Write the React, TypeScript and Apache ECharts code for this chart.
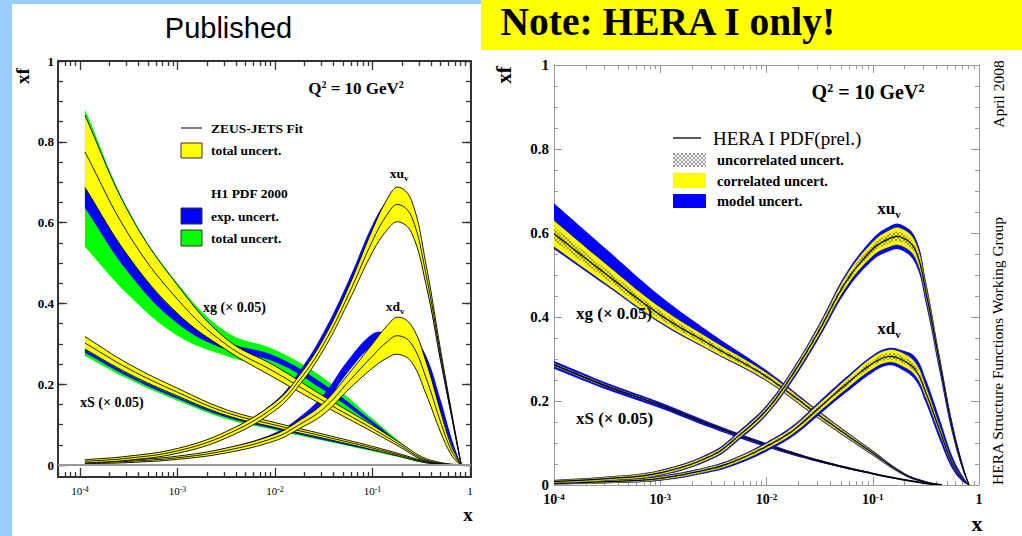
import React, { useEffect, useRef } from "react";
import * as echarts from "echarts";

// ---------------- tick labels ----------------
const X_DECADES = [-4, -3, -2, -1, 0]; // log10(x)
const Y_LABELS = [0, 0.2, 0.4, 0.6, 0.8, 1];

// ---------------- LEFT panel (Published: ZEUS-JETS vs H1 PDF 2000), x given as log10(x) ----------------
const L_X_SEA = [-3.95, -3.5, -3, -2.5, -2, -1.5, -1, -0.7, -0.5, -0.3, -0.09];
const L_X_VAL = [-3.95, -3.5, -3, -2.5, -2, -1.75, -1.5, -1.25, -1, -0.85, -0.74, -0.6, -0.45, -0.3, -0.2, -0.13, -0.09];

// xg (x 0.05)
const L_XG_Z_UP = [0.866, 0.625, 0.445, 0.312, 0.245, 0.17, 0.098, 0.052, 0.021, 0.006, 0];
const L_XG_Z_C = [0.775, 0.57, 0.41, 0.298, 0.23, 0.158, 0.09, 0.047, 0.017, 0.004, 0];
const L_XG_Z_LO = [0.687, 0.515, 0.375, 0.285, 0.215, 0.147, 0.082, 0.042, 0.014, 0.003, 0];
const L_XG_H1_GU = [0.88, 0.63, 0.45, 0.33, 0.285, 0.215, 0.115, 0.054, 0.021, 0.006, 0];
const L_XG_H1_BU = [0.7, 0.52, 0.375, 0.305, 0.27, 0.2, 0.108, 0.05, 0.018, 0.005, 0];
const L_XG_H1_BL = [0.636, 0.475, 0.35, 0.285, 0.255, 0.185, 0.1, 0.046, 0.016, 0.004, 0];
const L_XG_H1_GL = [0.54, 0.42, 0.32, 0.27, 0.235, 0.17, 0.093, 0.042, 0.014, 0.003, 0];

// xS (x 0.05)
const L_XS_Z_UP = [0.318, 0.25, 0.19, 0.137, 0.105, 0.076, 0.046, 0.026, 0.012, 0.003, 0];
const L_XS_Z_C = [0.302, 0.238, 0.18, 0.13, 0.099, 0.071, 0.042, 0.023, 0.01, 0.002, 0];
const L_XS_Z_LO = [0.287, 0.226, 0.171, 0.123, 0.093, 0.066, 0.038, 0.02, 0.008, 0.001, 0];
const L_XS_H1_GU = [0.29, 0.228, 0.173, 0.125, 0.095, 0.068, 0.04, 0.022, 0.009, 0.002, 0];
const L_XS_H1_BU = [0.285, 0.224, 0.169, 0.122, 0.092, 0.065, 0.038, 0.02, 0.008, 0.001, 0];
const L_XS_H1_BL = [0.278, 0.218, 0.164, 0.118, 0.089, 0.062, 0.036, 0.019, 0.007, 0.001, 0];
const L_XS_H1_GL = [0.27, 0.212, 0.159, 0.114, 0.086, 0.06, 0.034, 0.018, 0.006, 0.001, 0];

// xu_v
const L_XU_Z_UP = [0.013, 0.022, 0.041, 0.083, 0.155, 0.222, 0.314, 0.438, 0.583, 0.658, 0.688, 0.655, 0.495, 0.282, 0.146, 0.053, 0];
const L_XU_Z_C = [0.009, 0.017, 0.035, 0.075, 0.145, 0.21, 0.3, 0.42, 0.555, 0.62, 0.645, 0.615, 0.47, 0.27, 0.14, 0.05, 0];
const L_XU_Z_LO = [0.005, 0.012, 0.029, 0.067, 0.135, 0.198, 0.286, 0.402, 0.527, 0.582, 0.602, 0.575, 0.445, 0.258, 0.134, 0.047, 0];
const L_XU_H1_BU = [0.012, 0.021, 0.04, 0.082, 0.158, 0.232, 0.33, 0.455, 0.595, 0.655, 0.67, 0.64, 0.48, 0.27, 0.14, 0.05, 0];
const L_XU_H1_BL = [0.006, 0.013, 0.03, 0.068, 0.136, 0.2, 0.295, 0.41, 0.545, 0.6, 0.615, 0.585, 0.445, 0.25, 0.128, 0.044, 0];

// xd_v
const L_XD_Z_UP = [0.007, 0.012, 0.022, 0.042, 0.076, 0.11, 0.154, 0.224, 0.3, 0.345, 0.366, 0.345, 0.255, 0.13, 0.052, 0.017, 0];
const L_XD_Z_C = [0.005, 0.009, 0.018, 0.036, 0.068, 0.1, 0.14, 0.205, 0.27, 0.305, 0.32, 0.3, 0.215, 0.105, 0.04, 0.012, 0];
const L_XD_Z_LO = [0.003, 0.006, 0.014, 0.03, 0.06, 0.09, 0.126, 0.186, 0.24, 0.265, 0.274, 0.255, 0.175, 0.08, 0.028, 0.007, 0];
const L_XD_H1_BU = [0.006, 0.011, 0.021, 0.042, 0.08, 0.118, 0.175, 0.26, 0.325, 0.33, 0.33, 0.32, 0.27, 0.16, 0.075, 0.025, 0];
const L_XD_H1_BL = [0.004, 0.007, 0.015, 0.032, 0.066, 0.1, 0.15, 0.23, 0.295, 0.3, 0.3, 0.29, 0.235, 0.13, 0.055, 0.017, 0];

// ---------------- RIGHT panel (HERA I PDF prel.) ----------------
const R_X_SEA = [-4, -3.5, -3, -2.5, -2, -1.5, -1, -0.7, -0.5, -0.35];
const R_X_VAL = [-4, -3.5, -3, -2.5, -2.25, -2, -1.75, -1.5, -1.25, -1, -0.85, -0.74, -0.6, -0.5, -0.37, -0.25, -0.15, -0.094];

const R_XG_C = [0.598, 0.5, 0.405, 0.33, 0.258, 0.165, 0.076, 0.025, 0.007, 0];
const R_XG_HU = [0.614, 0.512, 0.414, 0.337, 0.263, 0.169, 0.078, 0.026, 0.008, 0];
const R_XG_HL = [0.582, 0.488, 0.396, 0.323, 0.253, 0.161, 0.074, 0.024, 0.006, 0];
const R_XG_YU = [0.63, 0.524, 0.423, 0.343, 0.267, 0.172, 0.08, 0.027, 0.008, 0];
const R_XG_YL = [0.567, 0.477, 0.388, 0.317, 0.249, 0.158, 0.072, 0.023, 0.006, 0];
const R_XG_BU = [0.671, 0.56, 0.45, 0.358, 0.273, 0.175, 0.082, 0.028, 0.009, 0];
const R_XG_BL = [0.562, 0.473, 0.385, 0.315, 0.247, 0.156, 0.07, 0.022, 0.005, 0];

const R_XS_C = [0.286, 0.235, 0.19, 0.14, 0.095, 0.057, 0.027, 0.012, 0.004, 0];
const R_XS_YU = [0.289, 0.238, 0.192, 0.142, 0.097, 0.058, 0.028, 0.0125, 0.0045, 0];
const R_XS_YL = [0.283, 0.232, 0.188, 0.138, 0.093, 0.056, 0.026, 0.0115, 0.0035, 0];
const R_XS_BU = [0.295, 0.243, 0.197, 0.146, 0.1, 0.06, 0.029, 0.013, 0.005, 0];
const R_XS_BL = [0.277, 0.227, 0.183, 0.134, 0.09, 0.054, 0.025, 0.011, 0.003, 0];

const R_XU_C = [0.008, 0.015, 0.029, 0.072, 0.12, 0.178, 0.265, 0.37, 0.485, 0.562, 0.586, 0.591, 0.56, 0.46, 0.29, 0.135, 0.04, 0];
const R_XU_YU = [0.011, 0.019, 0.034, 0.078, 0.127, 0.186, 0.274, 0.381, 0.499, 0.579, 0.606, 0.612, 0.58, 0.476, 0.301, 0.142, 0.043, 0];
const R_XU_YL = [0.005, 0.011, 0.024, 0.066, 0.113, 0.17, 0.256, 0.359, 0.471, 0.545, 0.566, 0.57, 0.54, 0.444, 0.279, 0.128, 0.037, 0];
const R_XU_HU = [0.009, 0.017, 0.032, 0.075, 0.124, 0.182, 0.27, 0.376, 0.493, 0.571, 0.597, 0.602, 0.57, 0.469, 0.296, 0.139, 0.042, 0];
const R_XU_HL = [0.007, 0.013, 0.026, 0.069, 0.116, 0.174, 0.26, 0.364, 0.477, 0.553, 0.575, 0.58, 0.55, 0.451, 0.284, 0.131, 0.038, 0];
const R_XU_BU = [0.012, 0.02, 0.036, 0.081, 0.131, 0.19, 0.278, 0.386, 0.505, 0.587, 0.615, 0.621, 0.59, 0.486, 0.308, 0.148, 0.046, 0];
const R_XU_BL = [0.004, 0.01, 0.022, 0.063, 0.109, 0.166, 0.25, 0.352, 0.462, 0.535, 0.556, 0.56, 0.528, 0.432, 0.268, 0.12, 0.032, 0];

const R_XD_C = [0.004, 0.008, 0.016, 0.04, 0.062, 0.092, 0.13, 0.185, 0.24, 0.29, 0.306, 0.3, 0.275, 0.22, 0.13, 0.05, 0.012, 0];
const R_XD_YU = [0.006, 0.011, 0.02, 0.045, 0.068, 0.099, 0.138, 0.195, 0.252, 0.305, 0.322, 0.317, 0.292, 0.235, 0.141, 0.056, 0.015, 0];
const R_XD_YL = [0.002, 0.005, 0.012, 0.035, 0.056, 0.085, 0.122, 0.175, 0.228, 0.276, 0.292, 0.285, 0.26, 0.207, 0.12, 0.045, 0.01, 0];
const R_XD_HU = [0.005, 0.01, 0.018, 0.043, 0.065, 0.096, 0.134, 0.19, 0.246, 0.297, 0.314, 0.309, 0.284, 0.228, 0.136, 0.053, 0.013, 0];
const R_XD_HL = [0.003, 0.006, 0.014, 0.037, 0.059, 0.088, 0.126, 0.18, 0.234, 0.283, 0.298, 0.292, 0.267, 0.213, 0.125, 0.047, 0.011, 0];
const R_XD_BU = [0.007, 0.012, 0.022, 0.047, 0.07, 0.102, 0.142, 0.2, 0.257, 0.309, 0.326, 0.322, 0.305, 0.252, 0.158, 0.068, 0.02, 0];
const R_XD_BL = [0.001, 0.004, 0.01, 0.032, 0.052, 0.08, 0.116, 0.168, 0.22, 0.268, 0.285, 0.277, 0.25, 0.195, 0.108, 0.038, 0.007, 0];

// ---------------- styling ----------------
const SERIF = "'Liberation Serif', 'DejaVu Serif', serif";
const SANS = "'Liberation Sans', Arial, sans-serif";
const YELLOW = "#ffff00";
const BLUE = "#0000ff";
const GREEN = "#00ff00";
const SMOOTH = 0.4;

const hatchPattern = (stroke: string, bg: string | null, w: number) => {
  const svg =
    `<svg xmlns="http://www.w3.org/2000/svg" width="4" height="4">` +
    (bg ? `<rect width="4" height="4" fill="${bg}"/>` : "") +
    `<path d="M0 0L4 4M4 0L0 4" stroke="${stroke}" stroke-width="${w}"/></svg>`;
  return {
    image: "data:image/svg+xml;charset=utf-8," + encodeURIComponent(svg),
    repeat: "repeat",
    imageWidth: 4,
    imageHeight: 4,
  };
};

// duplicate the end points so that the smoothed outline leaves each end exactly like the edge polylines
const ends = (p: number[][]) => (p.length ? [p[0], ...p, p[p.length - 1]] : p);

// A band between two curves, drawn by a custom series through the axes' scales.
function band(key: string, g: number, xs: number[], lo: number[], hi: number[], fill: any, edge?: any) {
  return {
    type: "custom",
    id: key,
    coordinateSystem: "cartesian2d",
    xAxisIndex: g * 4,
    yAxisIndex: g * 4,
    silent: true,
    clip: true,
    encode: { x: 0, y: 1 },
    data: [[xs[0], lo[0]]],
    renderItem: (_p: any, api: any) => {
      const up = ends(xs.map((x, i) => api.coord([x, hi[i]])));
      const dn = ends(xs.map((x, i) => api.coord([x, lo[i]])));
      const children: any[] = [
        {
          type: "polygon",
          shape: { points: up.concat(dn.slice().reverse()), smooth: SMOOTH },
          style: { fill, stroke: null, lineWidth: 0 },
        },
      ];
      if (edge) {
        const st = { stroke: edge.color, lineWidth: edge.width, opacity: edge.opacity ?? 1, fill: null };
        children.push({ type: "polyline", shape: { points: up, smooth: SMOOTH }, style: st });
        children.push({ type: "polyline", shape: { points: dn, smooth: SMOOTH }, style: { ...st } });
      }
      return { type: "group", children };
    },
  };
}

function curve(key: string, g: number, xs: number[], ys: number[], color: string, width: number) {
  return {
    type: "custom",
    id: key,
    coordinateSystem: "cartesian2d",
    xAxisIndex: g * 4,
    yAxisIndex: g * 4,
    silent: true,
    clip: true,
    encode: { x: 0, y: 1 },
    data: [[xs[0], ys[0]]],
    renderItem: (_p: any, api: any) => ({
      type: "polyline",
      shape: { points: ends(xs.map((x, i) => api.coord([x, ys[i]]))), smooth: SMOOTH },
      style: { stroke: color, lineWidth: width, fill: null },
    }),
  };
}

function minorLog(min: number, max: number) {
  const out: number[] = [];
  for (let d = -6; d <= 0; d++)
    for (let k = 2; k <= 9; k++) {
      const v = d + Math.log10(k);
      if (v > min && v < max) out.push(v);
    }
  return out;
}
function minorLin(min: number, max: number, step: number) {
  const out: number[] = [];
  for (let i = Math.ceil(min / step); i * step <= max + 1e-9; i++) out.push(Math.round(i * step * 1000) / 1000);
  return out;
}

function xAxes(g: number, min: number, max: number, c: any) {
  const base = { type: "value", gridIndex: g, min, max, splitLine: { show: false } };
  const line = { show: true, onZero: false, lineStyle: { color: c.color, width: c.width } };
  const noLine = { show: false, onZero: false };
  const tick = (vals: number[], len: number) => ({
    show: true,
    inside: true,
    length: len,
    customValues: vals,
    lineStyle: { color: c.color, width: c.tickWidth },
  });
  const minors = minorLog(min, max);
  return [
    {
      ...base,
      position: "bottom",
      axisLine: line,
      axisTick: tick(X_DECADES, c.majorLen),
      axisLabel: {
        show: true,
        customValues: X_DECADES,
        margin: c.xMargin,
        formatter: (v: number) => {
          const n = Math.round(v);
          return n === 0 ? "{a|1}" : `{a|10}{s|${n}}`;
        },
        rich: {
          a: { fontFamily: SERIF, fontSize: c.xSize, fontWeight: c.xWeight, color: "#000", lineHeight: c.xSize + 2, verticalAlign: "top" },
          s: { fontFamily: SERIF, fontSize: c.supSize, fontWeight: c.xWeight, color: "#000", lineHeight: c.supSize + 1, verticalAlign: "top" },
        },
      },
    },
    { ...base, position: "bottom", axisLine: noLine, axisTick: tick(minors, c.minorLen), axisLabel: { show: false } },
    { ...base, position: "top", axisLine: line, axisTick: tick(X_DECADES, c.majorLen), axisLabel: { show: false } },
    { ...base, position: "top", axisLine: noLine, axisTick: tick(minors, c.minorLen), axisLabel: { show: false } },
  ];
}

function yAxes(g: number, min: number, max: number, c: any) {
  const base = { type: "value", gridIndex: g, min, max, splitLine: { show: false } };
  const line = { show: true, onZero: false, lineStyle: { color: c.color, width: c.width } };
  const noLine = { show: false, onZero: false };
  const tick = (vals: number[], len: number) => ({
    show: true,
    inside: true,
    length: len,
    customValues: vals,
    lineStyle: { color: c.color, width: c.tickWidth },
  });
  const minors = minorLin(0, max, 0.05);
  return [
    {
      ...base,
      position: "left",
      axisLine: line,
      axisTick: tick(Y_LABELS, c.majorLen),
      axisLabel: {
        show: true,
        customValues: Y_LABELS,
        margin: c.yMargin,
        formatter: (v: number) => String(Math.round(v * 10) / 10),
        fontFamily: SERIF,
        fontSize: c.ySize,
        fontWeight: "bold",
        color: "#000",
      },
    },
    { ...base, position: "left", axisLine: noLine, axisTick: tick(minors, c.minorLen), axisLabel: { show: false } },
    { ...base, position: "right", axisLine: line, axisTick: tick(Y_LABELS, c.majorLen), axisLabel: { show: false } },
    { ...base, position: "right", axisLine: noLine, axisTick: tick(minors, c.minorLen), axisLabel: { show: false } },
  ];
}

// graphic helpers
const T = (x: number, y: number, text: string, o: any = {}, extra: any = {}) => ({
  type: "text",
  x,
  y,
  z: 50,
  silent: true,
  ...extra,
  style: {
    text,
    fill: "#000",
    fontFamily: SERIF,
    fontSize: 14,
    fontWeight: "bold",
    align: "left",
    verticalAlign: "middle",
    ...o,
  },
});
const subText = (x: number, y: number, main: string, sub: string, size: number, subSize: number) =>
  T(x, y, `{a|${main}}{b|${sub}}`, {
    align: "center",
    rich: {
      a: { fontFamily: SERIF, fontWeight: "bold", fontSize: size, lineHeight: size + 2, verticalAlign: "top" },
      b: { fontFamily: SERIF, fontWeight: "bold", fontSize: subSize, lineHeight: subSize + 1, padding: [Math.round(size * 0.55), 0, 0, 0], verticalAlign: "top" },
    },
  });
const qText = (x: number, y: number, size: number) =>
  T(x, y, "{a|Q}{s|2}{a| = 10 GeV}{s|2}", {
    align: "center",
    rich: {
      a: { fontFamily: SERIF, fontWeight: "bold", fontSize: size, lineHeight: size + 2, verticalAlign: "top" },
      s: { fontFamily: SERIF, fontWeight: "bold", fontSize: Math.round(size * 0.6), lineHeight: Math.round(size * 0.6) + 1, verticalAlign: "top" },
    },
  });
const R = (x: number, y: number, w: number, h: number, fill: any, stroke?: string, lw = 1, z = 40) => ({
  type: "rect",
  z,
  silent: true,
  shape: { x, y, width: w, height: h },
  style: { fill, stroke: stroke || null, lineWidth: stroke ? lw : 0 },
});
const Ln = (x1: number, y1: number, x2: number, y2: number, stroke: string, lw: number) => ({
  type: "line",
  z: 40,
  silent: true,
  shape: { x1, y1, x2, y2 },
  style: { stroke, lineWidth: lw },
});

export default function App() {
  const ref = useRef<HTMLDivElement>(null);

  useEffect(() => {
    const el = ref.current;
    if (!el) return;
    const chart = echarts.init(el, null, { renderer: "svg" });

    const leftCfg = { color: "#333", width: 2, tickWidth: 1.3, majorLen: 9, minorLen: 5, xMargin: 8, xSize: 11, xWeight: "normal", supSize: 8, yMargin: 4, ySize: 13 };
    const rightCfg = { color: "#999", width: 1, tickWidth: 1, majorLen: 8, minorLen: 4, xMargin: 7, xSize: 14, xWeight: "bold", supSize: 9, yMargin: 5, ySize: 15 };

    const HATCH = hatchPattern("#505050", null, 0.6);
    const HATCH_LEG = hatchPattern("#808080", "#ffffff", 0.8);
    const edgeL = { color: "#000", width: 0.9 };
    const edgeR = { color: "#222", width: 0.6, opacity: 0.8 };

    // y = 0 reference line of the left panel
    const zeroLine = {
      type: "line",
      id: "zero",
      xAxisIndex: 0,
      yAxisIndex: 0,
      symbol: "none",
      silent: true,
      lineStyle: { opacity: 0 },
      data: [[L_X_SEA[0], 0]],
      markLine: {
        silent: true,
        symbol: "none",
        label: { show: false },
        lineStyle: { color: "#999", width: 2, type: "solid" },
        data: [{ yAxis: 0 }],
      },
    };

    const leftSeries: any[] = [
      zeroLine,
      band("lxs-g", 0, L_X_SEA, L_XS_H1_GL, L_XS_H1_GU, GREEN),
      band("lxs-b", 0, L_X_SEA, L_XS_H1_BL, L_XS_H1_BU, BLUE),
      band("lxg-g", 0, L_X_SEA, L_XG_H1_GL, L_XG_H1_GU, GREEN),
      band("lxg-b", 0, L_X_SEA, L_XG_H1_BL, L_XG_H1_BU, BLUE),
      band("lxd-b", 0, L_X_VAL, L_XD_H1_BL, L_XD_H1_BU, BLUE),
      band("lxu-b", 0, L_X_VAL, L_XU_H1_BL, L_XU_H1_BU, BLUE),
      band("lxs-z", 0, L_X_SEA, L_XS_Z_LO, L_XS_Z_UP, YELLOW, edgeL),
      curve("lxs-c", 0, L_X_SEA, L_XS_Z_C, "#000", 0.9),
      band("lxg-z", 0, L_X_SEA, L_XG_Z_LO, L_XG_Z_UP, YELLOW, edgeL),
      curve("lxg-c", 0, L_X_SEA, L_XG_Z_C, "#000", 0.9),
      band("lxd-z", 0, L_X_VAL, L_XD_Z_LO, L_XD_Z_UP, YELLOW, edgeL),
      curve("lxd-c", 0, L_X_VAL, L_XD_Z_C, "#000", 0.9),
      band("lxu-z", 0, L_X_VAL, L_XU_Z_LO, L_XU_Z_UP, YELLOW, edgeL),
      curve("lxu-c", 0, L_X_VAL, L_XU_Z_C, "#000", 0.9),
    ];

    const rightSeries: any[] = [
      band("rxs-b", 1, R_X_SEA, R_XS_BL, R_XS_BU, BLUE),
      band("rxs-y", 1, R_X_SEA, R_XS_YL, R_XS_YU, YELLOW),
      curve("rxs-c", 1, R_X_SEA, R_XS_C, "#000", 1.8),
      band("rxg-b", 1, R_X_SEA, R_XG_BL, R_XG_BU, BLUE),
      band("rxg-y", 1, R_X_SEA, R_XG_YL, R_XG_YU, YELLOW, edgeR),
      band("rxg-h", 1, R_X_SEA, R_XG_HL, R_XG_HU, HATCH),
      curve("rxg-c", 1, R_X_SEA, R_XG_C, "#000", 1.2),
      band("rxd-b", 1, R_X_VAL, R_XD_BL, R_XD_BU, BLUE),
      band("rxd-y", 1, R_X_VAL, R_XD_YL, R_XD_YU, YELLOW, edgeR),
      band("rxd-h", 1, R_X_VAL, R_XD_HL, R_XD_HU, HATCH),
      curve("rxd-c", 1, R_X_VAL, R_XD_C, "#000", 1.2),
      band("rxu-b", 1, R_X_VAL, R_XU_BL, R_XU_BU, BLUE),
      band("rxu-y", 1, R_X_VAL, R_XU_YL, R_XU_YU, YELLOW, edgeR),
      band("rxu-h", 1, R_X_VAL, R_XU_HL, R_XU_HU, HATCH),
      curve("rxu-c", 1, R_X_VAL, R_XU_C, "#000", 1.2),
    ];

    const graphics: any[] = [
      // slide decorations
      R(0, 0, 12, 536, "#99ccff", undefined, 0, 0),
      R(0, 0, 481, 4, "#99ccff", undefined, 0, 0),
      R(481, 0, 541, 50, "#ffff00", undefined, 0, 0),
      T(228.5, 28, "Published", { fontFamily: SANS, fontWeight: "normal", fontSize: 29, align: "center" }),
      T(500.5, 21.6, "Note: HERA I only!", { fontSize: 39.5, align: "left" }),

      // left panel texts
      T(22, 76, "xf", { fontSize: 19, align: "center" }, { rotation: Math.PI / 2 }),
      T(468, 514, "x", { fontSize: 19, align: "center" }),
      qText(356, 89, 17),
      Ln(181, 128, 202, 128, "#555", 1.5),
      T(211, 128, "ZEUS-JETS Fit", { fontSize: 13.5 }),
      R(181, 143, 21, 15, YELLOW, "#333", 1),
      T(211, 150, "total uncert.", { fontSize: 13.5 }),
      T(211, 193, "H1 PDF 2000", { fontSize: 13.5 }),
      R(181, 208, 21, 16, BLUE, "#333", 1),
      T(211, 216, "exp. uncert.", { fontSize: 13.5 }),
      R(181, 230, 21, 16, GREEN, "#333", 1),
      T(211, 238, "total uncert.", { fontSize: 13.5 }),
      subText(399, 174, "xu", "v", 13.5, 9),
      subText(395, 307, "xd", "v", 13.5, 9),
      T(203, 307, "xg (\u00d7 0.05)", { fontSize: 14 }),
      T(80, 402, "xS (\u00d7 0.05)", { fontSize: 14 }),

      // right panel texts
      T(504, 75, "xf", { fontSize: 21, align: "center" }, { rotation: Math.PI / 2 }),
      T(977, 523, "x", { fontSize: 22, align: "center" }),
      qText(868, 93, 20),
      Ln(673, 138, 701, 138, "#000", 1.3),
      T(713, 138, "HERA I PDF(prel.)", { fontSize: 19, fontWeight: "normal" }),
      R(673, 153, 33, 14, HATCH_LEG),
      T(717, 160, "uncorrelated uncert.", { fontSize: 14.5 }),
      R(673, 173, 33, 15, YELLOW),
      T(717, 181, "correlated uncert.", { fontSize: 14.5 }),
      R(673, 194, 33, 14, BLUE),
      T(717, 201, "model uncert.", { fontSize: 14.5 }),
      subText(889, 209, "xu", "v", 17, 11),
      subText(889, 329, "xd", "v", 17, 11),
      T(576, 313, "xg (\u00d7 0.05)", { fontSize: 17 }),
      T(576, 418, "xS (\u00d7 0.05)", { fontSize: 17 }),
      T(998, 94, "April 2008", { fontSize: 15.5, fontWeight: "normal", align: "center" }, { rotation: Math.PI / 2 }),
      T(997, 351, "HERA Structure Functions Working Group", { fontSize: 15.5, fontWeight: "normal", align: "center" }, { rotation: Math.PI / 2 }),
    ];

    chart.setOption({
      animation: false,
      backgroundColor: "#ffffff",
      grid: [
        { left: 58, top: 61, width: 413, height: 416, containLabel: false, outerBoundsMode: "none" },
        { left: 554, top: 65, width: 425, height: 420, containLabel: false, outerBoundsMode: "none" },
      ],
      xAxis: [...xAxes(0, -4.226, 0.01, leftCfg), ...xAxes(1, -4, 0, rightCfg)],
      yAxis: [...yAxes(0, -0.0297, 1, leftCfg), ...yAxes(1, 0, 1, rightCfg)],
      series: [...leftSeries, ...rightSeries],
      graphic: { elements: graphics },
    });

    return () => chart.dispose();
  }, []);

  return (
    <div
      ref={ref}
      style={{ position: "fixed", left: 0, top: 0, width: 1022, height: 536, background: "#fff" }}
    />
  );
}
